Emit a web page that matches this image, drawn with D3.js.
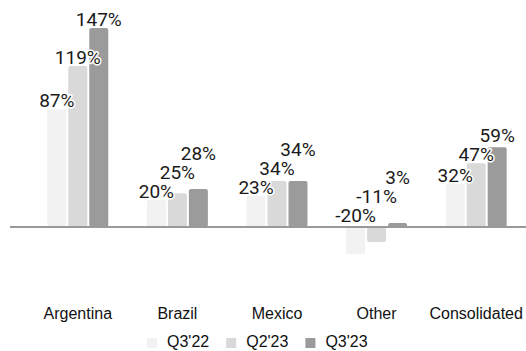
<!DOCTYPE html>
<html>
<head>
<meta charset="utf-8">
<script src="https://cdn.jsdelivr.net/npm/d3@7"></script>
<style>
  body { margin: 0; background: #fff; }
  svg { display: block; }
</style>
</head>
<body>
<div id="chart"></div>
<script>
// values (growth, %)
const categories = ["Argentina", "Brazil", "Mexico", "Other", "Consolidated"];
const seriesNames = ["Q3'22", "Q2'23", "Q3'23"];
const q322 = [87, 20, 23, -20, 32];
const q223 = [119, 25, 34, -11, 47];
const q323 = [147, 28, 34, 3, 59];
const seriesColors = ["#f2f2f2", "#d9d9d9", "#9b9b9b"];

const width = 526, height = 351;
const seriesValues = [q322, q223, q323];

const svg = d3.select("#chart").append("svg")
    .attr("width", width)
    .attr("height", height);

const x0 = d3.scaleBand()
    .domain(categories)
    .range([28, 526])
    .paddingInner(0.388)
    .paddingOuter(0.194);

const x1 = d3.scaleBand()
    .domain(seriesNames)
    .range([0, x0.bandwidth()])
    .paddingInner(0.095);

const y = d3.scaleLinear()
    .domain([0, 147])
    .range([227, 28]);

// one record per bar
const bars = [];
categories.forEach((c, ci) => {
    seriesNames.forEach((s, si) => {
        bars.push({ cat: c, series: s, si: si, value: seriesValues[si][ci] });
    });
});

svg.append("g").selectAll("rect")
    .data(bars)
    .join("rect")
    .attr("x", d => x0(d.cat) + x1(d.series))
    .attr("y", d => y(Math.max(0, d.value)))
    .attr("width", x1.bandwidth())
    .attr("height", d => Math.abs(y(d.value) - y(0)))
    .attr("rx", 2)
    .attr("fill", d => seriesColors[d.si]);

// zero line
svg.append("line")
    .attr("x1", 10).attr("x2", width)
    .attr("y1", y(0)).attr("y2", y(0))
    .attr("stroke", "#999")
    .attr("stroke-width", 2);

// value labels, lifted to avoid overlapping the label on their left
const labels = svg.append("g")
    .attr("font-family", "Roboto, sans-serif")
    .attr("font-size", 19)
    .attr("fill", "#1a1a1a")
    .attr("text-anchor", "middle");

const lineH = 19;
categories.forEach(c => {
    const placed = [];
    bars.filter(d => d.cat == c).forEach(d => {
        const cx = x0(d.cat) + x1(d.series) + x1.bandwidth() / 2;
        const t = labels.append("text")
            .attr("x", cx)
            .text(d.value + "%")
            .attr("stroke", "#fff")
            .attr("stroke-width", 3)
            .attr("paint-order", "stroke")
            .attr("stroke-linejoin", "round");
        const w = t.node().getComputedTextLength();
        let base = d.value >= 0 ? y(d.value) - 2 : y(0) - 5;
        let moved = true;
        while (moved) {
            moved = false;
            for (const p of placed) {
                const hOverlap = Math.abs(p.cx - cx) < (p.w + w) / 2;
                const vOverlap = Math.abs(p.base - base) < lineH;
                if (hOverlap && vOverlap) {
                    base = p.base - lineH;
                    moved = true;
                }
            }
        }
        placed.push({ cx: cx, w: w, base: base });
        t.attr("y", base);
    });
});

// category labels
svg.append("g").selectAll("text")
    .data(categories)
    .join("text")
    .attr("x", d => x0(d) + x0.bandwidth() / 2)
    .attr("y", 319)
    .attr("text-anchor", "middle")
    .attr("font-family", "'Liberation Sans', Arial, sans-serif")
    .attr("font-size", 16)
    .attr("fill", "#111")
    .text(d => d);

// legend
const legend = svg.append("g")
    .attr("font-family", "'Liberation Sans', Arial, sans-serif")
    .attr("font-size", 16)
    .attr("fill", "#111");

let lx = 147;
seriesNames.forEach((s, i) => {
    legend.append("rect")
        .attr("x", lx).attr("y", 338)
        .attr("width", 10).attr("height", 10)
        .attr("fill", seriesColors[i]);
    const t = legend.append("text")
        .attr("x", lx + 20).attr("y", 347)
        .text(s);
    lx += 20 + t.node().getComputedTextLength() + 17;
});
</script>
</body>
</html>
